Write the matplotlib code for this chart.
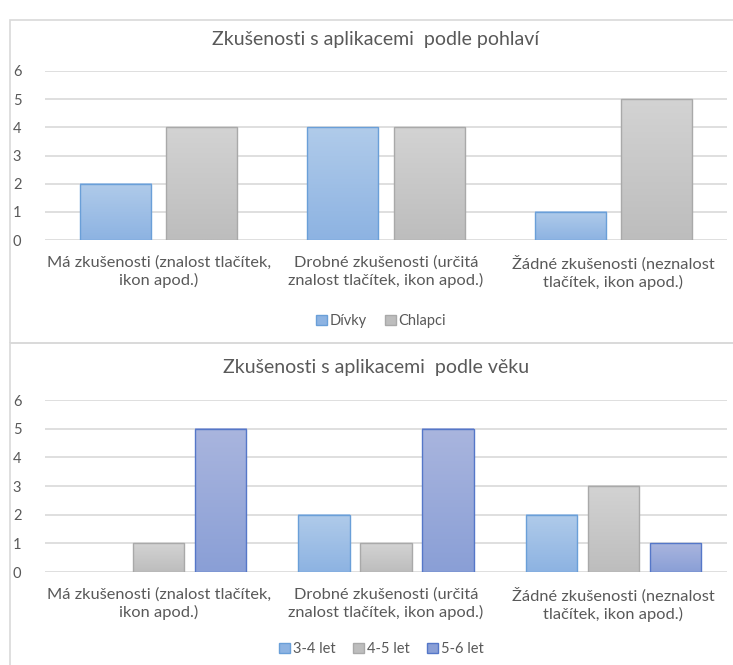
import matplotlib
matplotlib.use('Agg')
import matplotlib.pyplot as plt
import numpy as np
from matplotlib.colors import LinearSegmentedColormap
from matplotlib.patches import Rectangle, Patch

kategorie = ['Má zkušenosti (znalost tlačítek,\nikon apod.)',
             'Drobné zkušenosti (určitá\nznalost tlačítek, ikon apod.)',
             'Žádné zkušenosti (neznalost\ntlačítek, ikon apod.)']

pohlavi = ['Dívky', 'Chlapci']
divky = [2, 4, 1]
chlapci = [4, 4, 5]

vek = ['3-4 let', '4-5 let', '5-6 let']
vek_34 = [0, 2, 2]
vek_45 = [1, 1, 3]
vek_56 = [5, 5, 1]

# (horní barva, spodní barva, okraj)
BARVY = [('#b0cbea', '#8db3e2', '#6a9fd8'),
         ('#d3d3d3', '#bdbdbd', '#a9a9a9'),
         ('#a9b5de', '#8a9fd6', '#5577c8')]

TEXT = '#595959'
MRIZKA = '#d9d9d9'
plt.rcParams['font.family'] = ['Lato', 'DejaVu Sans']

W, H = 733, 665
fig = plt.figure(figsize=(W / 100, H / 100), dpi=100)

# rámečky panelů
for y0, y1 in [(20, 343), (343, 700)]:
    fig.patches.append(Rectangle((10 / W, 1 - y1 / H), 1.2, (y1 - y0) / H,
                                 transform=fig.transFigure, fill=False,
                                 edgecolor=MRIZKA, lw=1.2))


def gradient_bars(ax, x, vals, width, barvy):
    top, bottom, edge = barvy
    cmap = LinearSegmentedColormap.from_list('g', [bottom, top])
    grad = np.linspace(0, 1, 100).reshape(-1, 1)
    bars = ax.bar(x, vals, width, facecolor='none', edgecolor=edge,
                  linewidth=1, zorder=3)
    for b in bars:
        h = b.get_height()
        if h <= 0:
            b.set_visible(False)
            continue
        ax.imshow(grad, extent=[b.get_x(), b.get_x() + b.get_width(), 0, h],
                  origin='lower', aspect='auto', cmap=cmap, zorder=2)
    return bars


def panel(rect, nazev, serie, nazvy, width, offsets, title_y, legend_y):
    ax = fig.add_axes(rect)
    x = np.arange(len(kategorie))
    for vals, off, barvy in zip(serie, offsets, BARVY):
        gradient_bars(ax, x + off, vals, width, barvy)
    ax.set_xlim(-0.5, 2.5)
    ax.set_ylim(0, 6)
    ax.set_yticks(range(7))
    ax.yaxis.grid(True, color=MRIZKA, lw=1.2, zorder=0)
    ax.set_axisbelow(True)
    for s in ax.spines.values():
        s.set_visible(False)
    ax.tick_params(axis='y', length=0, pad=17, labelsize=10.5, labelcolor=TEXT)
    ax.set_xticks(x)
    ax.set_xticklabels(kategorie, fontsize=11.8, color=TEXT, linespacing=1.3)
    ax.tick_params(axis='x', length=0, pad=11)
    fig.text(0.513, 1 - title_y / H, nazev, ha='center', va='center',
             fontsize=14, color=TEXT)
    handles = [Patch(facecolor=b[1], edgecolor=b[2]) for b in BARVY[:len(serie)]]
    fig.legend(handles, nazvy, loc='center', bbox_to_anchor=(0.52, 1 - legend_y / H),
               ncol=len(nazvy), frameon=False, fontsize=10.5, labelcolor=TEXT,
               handlelength=0.75, handleheight=0.75, handletextpad=0.2,
               columnspacing=1.2)
    return ax


panel([45 / W, 1 - 240 / H, 682 / W, 169 / H],
      'Zkušenosti s aplikacemi  podle pohlaví',
      [divky, chlapci], pohlavi, 0.313, [-0.19, 0.19], 40, 321)

panel([45 / W, 1 - 572 / H, 682 / W, 172 / H],
      'Zkušenosti s aplikacemi  podle věku',
      [vek_34, vek_45, vek_56], vek, 0.225, [-0.273, 0, 0.273], 368, 649)

fig.savefig('out.png', dpi=100)
